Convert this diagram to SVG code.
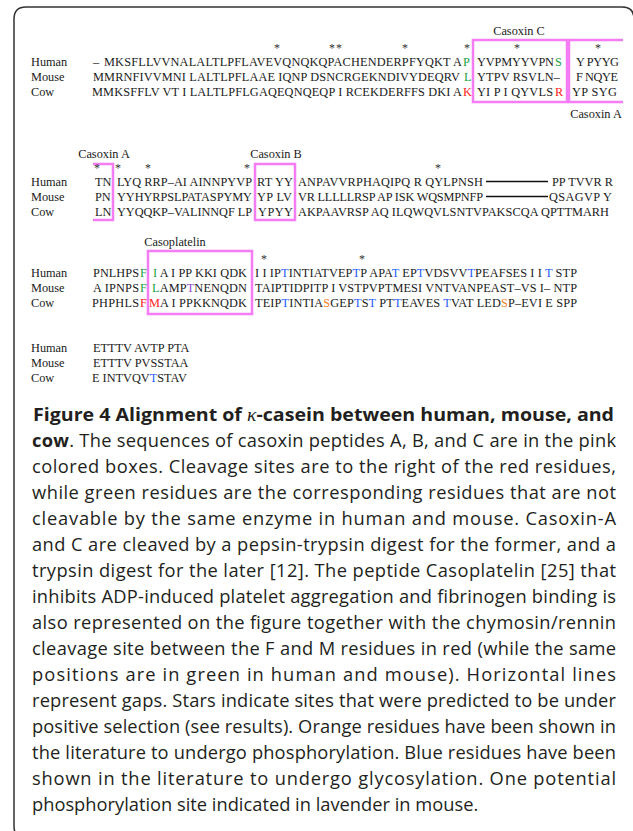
<svg xmlns="http://www.w3.org/2000/svg" width="633" height="831" viewBox="0 0 633 831">
<style>
.seq{font-family:"Liberation Serif","Times New Roman",serif;font-size:12.3px;fill:#1a1a1a}
.lbl{font-family:"Liberation Serif","Times New Roman",serif;font-size:12.3px;fill:#1a1a1a}
.star{font-family:"Liberation Serif","Times New Roman",serif;font-size:12px;fill:#333;text-anchor:middle}
.g{fill:#22a040}
.r{fill:#ff1a1a}
.b{fill:#1f5bff}
.o{fill:#f5821f}
.p{fill:#8e44c8}
.box{fill:none;stroke:#f47cf4;stroke-width:2.5}
.gap{stroke:#111;stroke-width:1.6}
.cap{font-family:"Open Sans","Noto Sans","Liberation Sans",sans-serif;font-size:18.3px;fill:#231f20}
.bold{font-weight:700}
.frame{fill:none;stroke:#333;stroke-width:1.5}
</style>
<rect width="633" height="831" fill="#fff"/>
<path class="frame" d="M 26 838 Q 14 838 14 826 L 14 19 Q 14 7 26 7 L 622 7 Q 634 7 634 19"/>

<g id="labels">
<text class="lbl" x="31" y="66">Human</text>
<text class="lbl" x="31" y="81">Mouse</text>
<text class="lbl" x="31" y="96">Cow</text>
<text class="lbl" x="31" y="186">Human</text>
<text class="lbl" x="31" y="201">Mouse</text>
<text class="lbl" x="31" y="216">Cow</text>
<text class="lbl" x="31" y="277">Human</text>
<text class="lbl" x="31" y="292">Mouse</text>
<text class="lbl" x="31" y="307">Cow</text>
<text class="lbl" x="31" y="352">Human</text>
<text class="lbl" x="31" y="367">Mouse</text>
<text class="lbl" x="31" y="382">Cow</text>
</g>

<g id="block1">
<text class="lbl" x="519" y="35" text-anchor="middle">Casoxin C</text>
<text class="lbl" x="596" y="118" text-anchor="middle">Casoxin A</text>
<rect class="box" x="473" y="40" width="94" height="62"/>
<path class="box" d="M 623 40 L 569 40 L 569 102 L 623 102"/>
<text class="star" x="277" y="52.4">*</text>
<text class="star" x="332" y="52.4">*</text>
<text class="star" x="339" y="52.4">*</text>
<text class="star" x="405" y="52.4">*</text>
<text class="star" x="467" y="52.4">*</text>
<text class="star" x="517" y="52.4">*</text>
<text class="star" x="598" y="52.4">*</text>
<text class="seq" x="93" y="66">–</text>
<text class="seq" x="104" y="66" textLength="358">MKSFLLVVNALALTLPFLAVEVQNQKQPACHENDERPFYQKT A</text>
<text class="seq g" x="463" y="66">P</text>
<text class="seq" x="477" y="66" textLength="77">YVPMYYVPN</text>
<text class="seq g" x="555" y="66">S</text>
<text class="seq" x="576" y="66" textLength="43">Y PYYG</text>
<text class="seq" x="93" y="81" textLength="367">MMRNFIVVMNI LALTLPFLAAE IQNP DSNCRGEKNDIVYDEQRV</text>
<text class="seq g" x="464" y="81">L</text>
<text class="seq" x="477" y="81" textLength="83">YTPV RSVLN–</text>
<text class="seq" x="576" y="81" textLength="42">F NQYE</text>
<text class="seq" x="92" y="96" textLength="370">MMKSFFLV VT I LALTLPFLGAQEQNQEQP I RCEKDERFFS DKI A</text>
<text class="seq r" x="463" y="96">K</text>
<text class="seq" x="477" y="96" textLength="76">YI P I QYVLS</text>
<text class="seq r" x="555" y="96">R</text>
<text class="seq" x="572" y="96" textLength="45">YP SYG</text>
</g>

<g id="block2">
<text class="lbl" x="104" y="158" text-anchor="middle">Casoxin A</text>
<text class="lbl" x="276" y="158" text-anchor="middle">Casoxin B</text>
<path class="box" d="M 93 164 L 113 164 L 113 220 L 93 220"/>
<rect class="box" x="255" y="164" width="40" height="56"/>
<text class="star" x="97" y="172.4">*</text>
<text class="star" x="118" y="172.4">*</text>
<text class="star" x="148" y="172.4">*</text>
<text class="star" x="247" y="172.4">*</text>
<text class="star" x="438" y="172.4">*</text>
<text class="seq" x="95" y="186">TN</text>
<text class="seq" x="117" y="186" textLength="135">LYQ RRP–AI AINNPYVP</text>
<text class="seq" x="257" y="186" textLength="36">RT YY</text>
<text class="seq" x="298" y="186" textLength="185">ANPAVVRPHAQIPQ R QYLPNSH</text>
<text class="seq" x="552" y="186" textLength="61">PP TVVR R</text>
<text class="seq" x="95" y="201">PN</text>
<text class="seq" x="117" y="201" textLength="135">YYHYRPSLPATASPYMY</text>
<text class="seq" x="257" y="201" textLength="35">YP LV</text>
<text class="seq" x="298" y="201" textLength="185">VR LLLLLRSP AP ISK WQSMPNFP</text>
<text class="seq" x="549" y="201" textLength="63">QSAGVP Y</text>
<text class="seq" x="95" y="216">LN</text>
<text class="seq" x="117" y="216" textLength="135">YYQQKP–VALINNQF LP</text>
<text class="seq" x="258" y="216" textLength="35">YPYY</text>
<text class="seq" x="298" y="216" textLength="311">AKPAAVRSP AQ ILQWQVLSNTVPAKSCQA QPTTMARH</text>
</g>

<g id="gaps">
<line class="gap" x1="486" y1="181.5" x2="548" y2="181.5"/>
<line class="gap" x1="486" y1="196.5" x2="548" y2="196.5"/>
</g>

<g id="block3">
<text class="lbl" x="175" y="246" text-anchor="middle">Casoplatelin</text>
<rect class="box" x="148" y="251" width="104" height="63"/>
<text class="star" x="264" y="263.4">*</text>
<text class="star" x="362" y="263.4">*</text>
<text class="seq" x="93" y="277" textLength="46">PNLHPS</text>
<text class="seq g" x="140" y="277">F</text>
<text class="seq" x="153" y="277" textLength="94"><tspan class="g">I</tspan> A I PP KKI QDK</text>
<text class="seq" x="255" y="277" textLength="322">I I IP<tspan class="b">T</tspan>INTIATVEP<tspan class="b">T</tspan>P APA<tspan class="b">T</tspan> EP<tspan class="b">T</tspan>VDSVV<tspan class="b">T</tspan>PEAFSES I I <tspan class="b">T</tspan> STP</text>
<text class="seq" x="93" y="292" textLength="46">A IPNPS</text>
<text class="seq g" x="140" y="292">F</text>
<text class="seq" x="152" y="292" textLength="95"><tspan class="g">L</tspan>AMP<tspan class="p">T</tspan>NENQDN</text>
<text class="seq" x="255" y="292" textLength="322">TAIPTIDPITP I VSTPVPTMESI VNTVANPEAST–VS I– NTP</text>
<text class="seq" x="92" y="307" textLength="47">PHPHLS</text>
<text class="seq r" x="140" y="307">F</text>
<text class="seq" x="149" y="307" textLength="98"><tspan class="r">M</tspan>A I PPKKNQDK</text>
<text class="seq" x="255" y="307" textLength="322">TEIP<tspan class="b">T</tspan>INTIA<tspan class="o">S</tspan>GEP<tspan class="b">T</tspan>S<tspan class="b">T</tspan> PT<tspan class="b">T</tspan>EAVES <tspan class="b">T</tspan>VAT LED<tspan class="o">S</tspan>P–EVI E SPP</text>
</g>

<g id="block4">
<text class="seq" x="93" y="352">ETTTV AVTP PTA</text>
<text class="seq" x="93" y="367">ETTTV PVSSTAA</text>
<text class="seq" x="92" y="382">E INTVQV<tspan class="b">T</tspan>STAV</text>
</g>

<g id="caption">
<text class="cap bold" x="33" y="421" textLength="581" lengthAdjust="spacingAndGlyphs">Figure 4 Alignment of <tspan font-family="Liberation Serif, serif" font-style="italic" font-weight="400">κ</tspan>-casein between human, mouse, and</text>
<text class="cap" x="32" y="447" textLength="584"><tspan class="bold">cow</tspan>. The sequences of casoxin peptides A, B, and C are in the pink</text>
<text class="cap" x="32" y="473" textLength="584">colored boxes. Cleavage sites are to the right of the red residues,</text>
<text class="cap" x="32" y="499" textLength="584">while green residues are the corresponding residues that are not</text>
<text class="cap" x="32" y="525" textLength="584">cleavable by the same enzyme in human and mouse. Casoxin-A</text>
<text class="cap" x="32" y="551" textLength="584">and C are cleaved by a pepsin-trypsin digest for the former, and a</text>
<text class="cap" x="32" y="577" textLength="584">trypsin digest for the later [12]. The peptide Casoplatelin [25] that</text>
<text class="cap" x="32" y="603" textLength="584">inhibits ADP-induced platelet aggregation and fibrinogen binding is</text>
<text class="cap" x="32" y="629" textLength="584">also represented on the figure together with the chymosin/rennin</text>
<text class="cap" x="32" y="655" textLength="584">cleavage site between the F and M residues in red (while the same</text>
<text class="cap" x="32" y="681" textLength="584">positions are in green in human and mouse). Horizontal lines</text>
<text class="cap" x="32" y="707" textLength="584">represent gaps. Stars indicate sites that were predicted to be under</text>
<text class="cap" x="32" y="733" textLength="584">positive selection (see results). Orange residues have been shown in</text>
<text class="cap" x="32" y="759" textLength="584">the literature to undergo phosphorylation. Blue residues have been</text>
<text class="cap" x="32" y="785" textLength="584">shown in the literature to undergo glycosylation. One potential</text>
<text class="cap" x="32" y="811">phosphorylation site indicated in lavender in mouse.</text>
</g>
</svg>
